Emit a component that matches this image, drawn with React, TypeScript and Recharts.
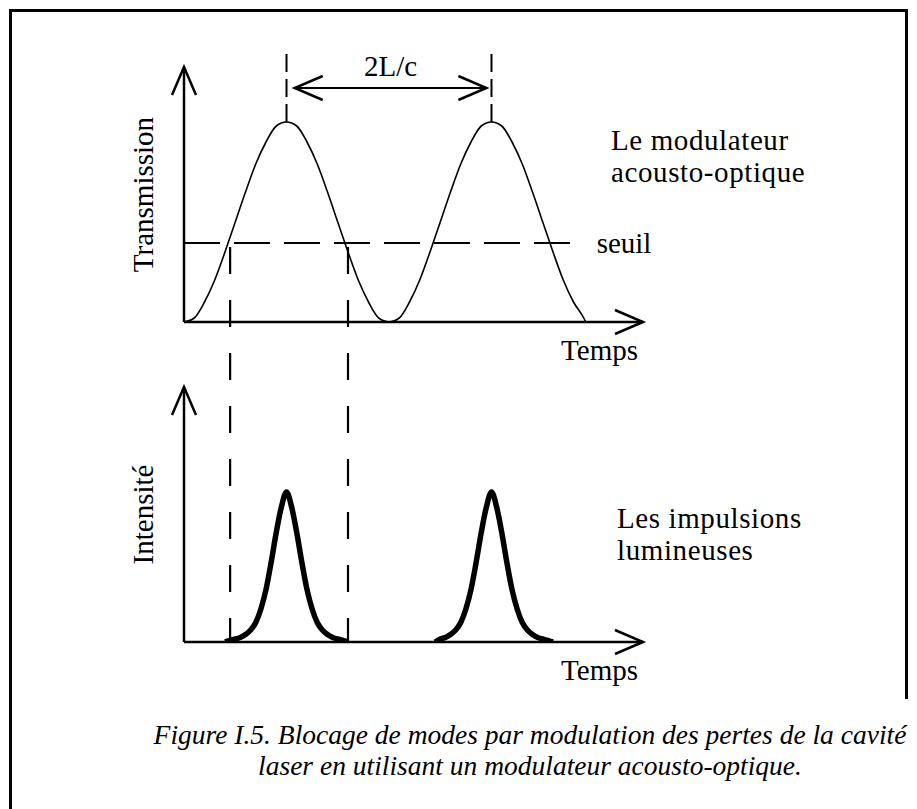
import { LineChart, Line, XAxis, YAxis, ReferenceLine } from 'recharts';

// modulator transmission, two periods (time in half-period units, peaks at 1 and 3)
const sineTime = [
  0, 0.1, 0.2, 0.3, 0.4, 0.5, 0.6, 0.7, 0.8, 0.9, 1.0, 1.1, 1.2, 1.3, 1.4, 1.5, 1.6, 1.7, 1.8, 1.9,
  2.0, 2.1, 2.2, 2.3, 2.4, 2.5, 2.6, 2.7, 2.8, 2.9, 3.0, 3.1, 3.2, 3.3, 3.4, 3.5, 3.6, 3.7, 3.8, 3.9, 3.92,
];
const sineTransmission = [
  0, 0.02, 0.1, 0.21, 0.35, 0.5, 0.65, 0.79, 0.9, 0.98, 1, 0.98, 0.9, 0.79, 0.65, 0.5, 0.35, 0.21, 0.1, 0.02,
  0, 0.02, 0.1, 0.21, 0.35, 0.5, 0.65, 0.79, 0.9, 0.98, 1, 0.98, 0.9, 0.79, 0.65, 0.5, 0.35, 0.21, 0.1, 0.02, 0,
];

// light pulses
const pulse1Time = [
  0.4, 0.45, 0.5, 0.55, 0.6, 0.65, 0.7, 0.75, 0.8, 0.85, 0.9, 0.95, 1.0,
  1.05, 1.1, 1.15, 1.2, 1.25, 1.3, 1.35, 1.4, 1.45, 1.5, 1.55, 1.6,
];
const pulse1Intensity = [
  0, 0.01, 0.02, 0.03, 0.05, 0.08, 0.13, 0.22, 0.35, 0.53, 0.73, 0.9, 1,
  0.9, 0.73, 0.53, 0.35, 0.22, 0.13, 0.08, 0.05, 0.03, 0.02, 0.01, 0,
];
const pulse2Time = [
  2.45, 2.5, 2.55, 2.6, 2.65, 2.7, 2.75, 2.8, 2.85, 2.9, 2.95, 3.0,
  3.05, 3.1, 3.15, 3.2, 3.25, 3.3, 3.35, 3.4, 3.45, 3.5, 3.55, 3.6,
];
const pulse2Intensity = [
  0, 0.02, 0.03, 0.05, 0.08, 0.13, 0.22, 0.35, 0.53, 0.73, 0.9, 1,
  0.9, 0.73, 0.53, 0.35, 0.22, 0.13, 0.08, 0.05, 0.03, 0.02, 0.01, 0,
];

const threshold = 0.395;
const peakTimes = [1, 3];
const gateTimes = [0.45, 1.6];

const sineData = sineTime.map((t, i) => ({ t, v: sineTransmission[i] }));
const pulse1 = pulse1Time.map((t, i) => ({ t, v: pulse1Intensity[i] }));
const pulse2 = pulse2Time.map((t, i) => ({ t, v: pulse2Intensity[i] }));

const FONT = '"Liberation Serif", "Times New Roman", serif';
const txt = { fill: '#000', fontSize: 29, fontFamily: FONT };
const yAxisLine = { stroke: '#000', strokeWidth: 2.5, markerStart: 'url(#arrowHead)' };
const xAxisLine = { stroke: '#000', strokeWidth: 2.5, markerEnd: 'url(#arrowHead)' };

const arrowShape = (p: any) => (
  <line
    x1={p.x1}
    y1={p.y1}
    x2={p.x2}
    y2={p.y2}
    stroke="#000"
    strokeWidth={2}
    markerStart="url(#arrowHead)"
    markerEnd="url(#arrowHead)"
  />
);

const textBlock = (left: number, top: number, lines: string[]) => (
  <div
    style={{
      position: 'absolute',
      left,
      top,
      fontFamily: FONT,
      fontSize: 29,
      lineHeight: '32px',
      letterSpacing: 0.6,
      whiteSpace: 'nowrap',
    }}
  >
    {lines.map(l => (
      <div key={l}>{l}</div>
    ))}
  </div>
);

export default function App() {
  return (
    <div
      style={{
        position: 'absolute',
        left: 0,
        top: 0,
        width: 917,
        height: 809,
        background: '#fff',
        fontFamily: FONT,
        overflow: 'hidden',
      }}
    >
      <svg width={0} height={0} style={{ position: 'absolute' }}>
        <defs>
          <marker
            id="arrowHead"
            viewBox="-32 -15 36 30"
            refX={0}
            refY={0}
            markerWidth={36}
            markerHeight={30}
            markerUnits="userSpaceOnUse"
            orient="auto-start-reverse"
          >
            <path d="M -28 -12 L 0 0 L -28 12" fill="none" stroke="#000" strokeWidth={2.5} />
          </marker>
        </defs>
      </svg>

      {/* frame */}
      <div style={{ position: 'absolute', left: 9, top: 9, width: 3, height: 800, background: '#000' }} />
      <div style={{ position: 'absolute', left: 9, top: 9, width: 899, height: 3, background: '#000' }} />
      <div style={{ position: 'absolute', left: 905, top: 9, width: 3, height: 690, background: '#000' }} />

      {/* modulator transmission */}
      <div style={{ position: 'absolute', left: 0, top: 0 }}>
        <LineChart width={917} height={400} margin={{ top: 67, right: 274, bottom: 35, left: 102 }}>
          <XAxis
            type="number"
            dataKey="t"
            domain={[0, 4.478]}
            allowDataOverflow
            tick={false}
            tickLine={false}
            axisLine={xAxisLine}
            height={43}
            label={{ value: 'Temps', position: 'insideBottomRight', offset: 5, ...txt }}
          />
          <YAxis
            type="number"
            domain={[0, 1.275]}
            allowDataOverflow
            tick={false}
            tickLine={false}
            axisLine={yAxisLine}
            width={82}
            label={{ value: 'Transmission', angle: -90, position: 'center', ...txt }}
          />
          <ReferenceLine
            segment={[{ x: 0, y: threshold }, { x: 3.85, y: threshold }]}
            stroke="#000"
            strokeWidth={2}
            strokeDasharray="36 14"
            ifOverflow="visible"
            label={{ value: 'seuil', position: 'right', offset: 18, ...txt }}
          />
          {peakTimes.map(t => (
            <ReferenceLine
              key={t}
              segment={[{ x: t, y: 1 }, { x: t, y: 1.35 }]}
              stroke="#000"
              strokeWidth={2}
              strokeDasharray="18 7"
              ifOverflow="visible"
            />
          ))}
          <ReferenceLine
            segment={[{ x: 1.08, y: 1.17 }, { x: 2.95, y: 1.17 }]}
            ifOverflow="visible"
            shape={arrowShape}
            label={{ value: '2L/c', position: 'top', offset: 12, ...txt }}
          />
          <Line
            data={sineData}
            dataKey="v"
            type="monotone"
            stroke="#000"
            strokeWidth={1.6}
            dot={false}
            isAnimationActive={false}
          />
        </LineChart>
      </div>

      {/* light pulses */}
      <div style={{ position: 'absolute', left: 0, top: 200 }}>
        <LineChart width={917} height={540} margin={{ top: 187, right: 274, bottom: 55, left: 102 }}>
          <XAxis
            type="number"
            dataKey="t"
            domain={[0, 4.478]}
            allowDataOverflow
            tick={false}
            tickLine={false}
            axisLine={xAxisLine}
            height={43}
            label={{ value: 'Temps', position: 'insideBottomRight', offset: 5, ...txt }}
          />
          <YAxis
            type="number"
            domain={[0, 1.7]}
            allowDataOverflow
            tick={false}
            tickLine={false}
            axisLine={yAxisLine}
            width={82}
            label={{ value: 'Intensité', angle: -90, position: 'center', ...txt }}
          />
          {gateTimes.map(t => (
            <ReferenceLine
              key={t}
              segment={[{ x: t, y: 0 }, { x: t, y: 2.66 }]}
              stroke="#000"
              strokeWidth={2.2}
              strokeDasharray="27 26"
              strokeDashoffset={3}
              ifOverflow="visible"
            />
          ))}
          <Line
            data={pulse1}
            dataKey="v"
            type="monotone"
            stroke="#000"
            strokeWidth={5.5}
            dot={false}
            isAnimationActive={false}
          />
          <Line
            data={pulse2}
            dataKey="v"
            type="monotone"
            stroke="#000"
            strokeWidth={5.5}
            dot={false}
            isAnimationActive={false}
          />
        </LineChart>
      </div>

      {textBlock(611, 124, ['Le modulateur', 'acousto-optique'])}
      {textBlock(617, 502, ['Les impulsions', 'lumineuses'])}

      <div
        style={{
          position: 'absolute',
          left: 100,
          width: 860,
          top: 719,
          textAlign: 'center',
          fontFamily: FONT,
          fontStyle: 'italic',
          fontSize: 27.5,
          lineHeight: '31px',
        }}
      >
        <div>Figure I.5. Blocage de modes par modulation des pertes de la cavité</div>
        <div>laser en utilisant un modulateur acousto-optique.</div>
      </div>
    </div>
  );
}
